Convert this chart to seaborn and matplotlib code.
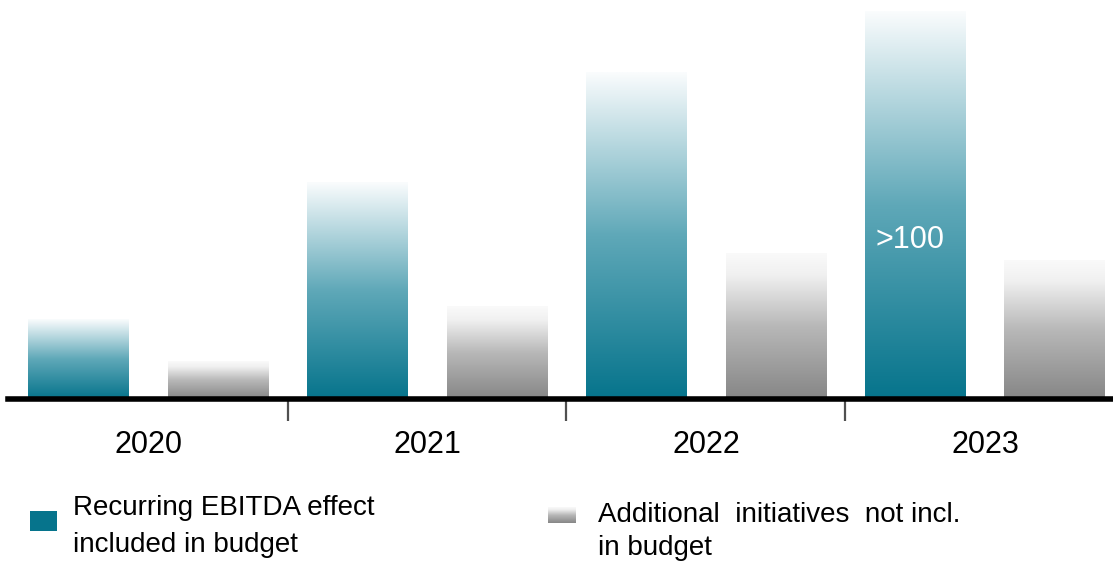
import numpy as np
import pandas as pd
import matplotlib.pyplot as plt
import seaborn as sns
from matplotlib.colors import LinearSegmentedColormap
from matplotlib.ticker import FixedLocator

# -------------------------------
# Data
# -------------------------------
years = ["2020", "2021", "2022", "2023"]
recurring = [22.6, 62.0, 93.4, 110.6]
additional = [10.6, 26.3, 41.7, 39.7]
series = ["Recurring EBITDA effect included in budget",
          "Additional initiatives not incl. in budget"]
legend_lines = [["Recurring EBITDA effect", "included in budget"],
                ["Additional  initiatives  not incl.", "in budget"]]
bar_note = ">100"

df = pd.DataFrame({
    "year": years * 2,
    "value": recurring + additional,
    "series": [series[0]] * len(years) + [series[1]] * len(years),
})

# -------------------------------
# Style
# -------------------------------
sns.set_style("white")
plt.rcParams["font.family"] = ["Liberation Sans", "DejaVu Sans"]
plt.rcParams["text.color"] = "black"

teal = "#06748C"
teal_cmap = LinearSegmentedColormap.from_list(
    "teal", [(0, teal), (0.5, "#5FA8B8"), (1, "#FAFCFD")])
grey_cmap = LinearSegmentedColormap.from_list(
    "grey", [(0, "#868686"), (0.5, "#B8B8B8"), (0.85, "#F0F0F0"), (1, "#FAFAFA")])
grad = np.linspace(0, 1, 256).reshape(-1, 1)

fig = plt.figure(figsize=(11.13, 5.62), dpi=100)
ax = fig.add_axes([8 / 1113, 163 / 562, 1105 / 1113, 399 / 562])

sns.barplot(data=df, x="year", y="value", hue="series", hue_order=series, order=years,
            width=1.0, gap=0.28, palette=[teal, "#868686"], legend=False, ax=ax)

# replace flat fills with vertical gradients
for cont, cmap in zip(ax.containers, [teal_cmap, grey_cmap]):
    for bar in cont:
        x, w, h = bar.get_x(), bar.get_width(), bar.get_height()
        ax.imshow(grad, cmap=cmap, origin="lower", aspect="auto",
                  extent=[x, x + w, 0, h], zorder=2)
        bar.set_visible(False)

last = ax.containers[0][len(years) - 1]
ax.text(last.get_x() + last.get_width() / 2 - 0.02, 45.4, bar_note, color="white",
        fontsize=22, ha="center", va="center", zorder=3)

ax.set_xlim(-0.502, 3.459)
ax.set_ylim(0, 114)

# axes cosmetics
sns.despine(ax=ax, left=True)
ax.spines["bottom"].set_linewidth(4)
ax.spines["bottom"].set_color("black")
ax.spines["bottom"].set_zorder(4)
ax.set_yticks([])
ax.set_xlabel("")
ax.set_ylabel("")
ax.set_xticks(range(len(years)))
ax.set_xticklabels(years, fontsize=22, color="black")
ax.tick_params(axis="x", which="major", length=0, pad=22)
ax.xaxis.set_minor_locator(FixedLocator([0.5, 1.5, 2.5]))
ax.tick_params(axis="x", which="minor", bottom=True, direction="out",
               length=16, width=1.6, color="#505050")

# -------------------------------
# Legend (drawn by hand)
# -------------------------------
lg1 = fig.add_axes([30 / 1113, 31 / 562, 27 / 1113, 20 / 562])
lg1.set_facecolor(teal)
lg1.set_xticks([]); lg1.set_yticks([])
for s in lg1.spines.values():
    s.set_visible(False)

lg2 = fig.add_axes([548 / 1113, 39 / 562, 28 / 1113, 16 / 562])
lg2.imshow(grad, cmap=grey_cmap, origin="lower", aspect="auto")
lg2.axis("off")

fig.text(73 / 1113, 47 / 562, legend_lines[0][0], fontsize=20, va="baseline", color="black")
fig.text(73 / 1113, 10 / 562, legend_lines[0][1], fontsize=20, va="baseline", color="black")
fig.text(598 / 1113, 40 / 562, legend_lines[1][0], fontsize=20, va="baseline", color="black")
fig.text(598 / 1113, 7 / 562, legend_lines[1][1], fontsize=20, va="baseline", color="black")

fig.savefig("out.png", dpi=100)
